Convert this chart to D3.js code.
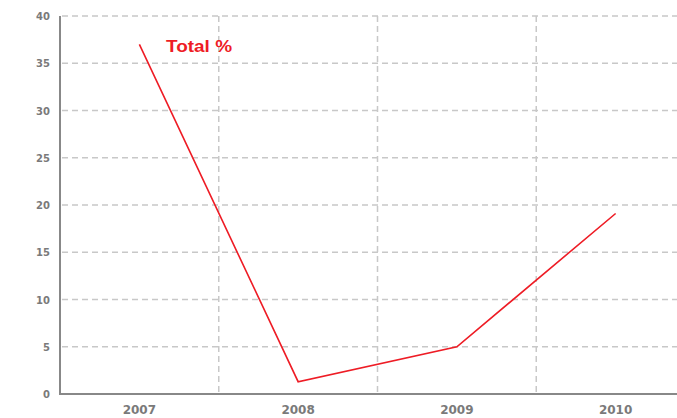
<!DOCTYPE html>
<html><head><meta charset="utf-8">
<script src="https://cdn.jsdelivr.net/npm/d3@7"></script>
<style>body{margin:0;background:#fff}svg{display:block}</style>
</head><body>
<svg id="c" width="677" height="418"></svg>
<script>
const categories = ["2007","2008","2009","2010"];
const values = [37, 1.3, 5, 19.1];
const yTicks = [0,5,10,15,20,25,30,35,40];
const seriesName = "Total %";

(function () {
const svg = d3.select("#c");
const mLeft = 60, mRight = 695, mTop = 16, mBottom = 394;
const x = d3.scaleBand().domain(categories).range([mLeft, mRight]);
const y = d3.scaleLinear().domain([0, 40]).range([mBottom, mTop]);

// horizontal grid
svg.append("g").selectAll("line").data(yTicks.filter(d => d > 0)).join("line")
  .attr("x1", mLeft + 2).attr("x2", 677)
  .attr("y1", d => y(d)).attr("y2", d => y(d))
  .attr("stroke", "#c8c8c8").attr("stroke-width", 1.5).attr("stroke-dasharray", "6,4");
// vertical grid at band boundaries
svg.append("g").selectAll("line").data(categories.slice(1)).join("line")
  .attr("x1", d => x(d)).attr("x2", d => x(d))
  .attr("y1", mTop).attr("y2", mBottom)
  .attr("stroke", "#c8c8c8").attr("stroke-width", 1.5).attr("stroke-dasharray", "6,4");

// axes
svg.append("line").attr("x1", mLeft).attr("x2", mLeft).attr("y1", mTop).attr("y2", mBottom + 1)
  .attr("stroke", "#888").attr("stroke-width", 2);
svg.append("line").attr("x1", mLeft).attr("x2", 677).attr("y1", mBottom).attr("y2", mBottom)
  .attr("stroke", "#888").attr("stroke-width", 2);

// y labels
svg.append("g").selectAll("text").data(yTicks).join("text")
  .attr("x", 50).attr("y", d => y(d) + 4)
  .attr("text-anchor", "end")
  .attr("font-family", "DejaVu Sans, sans-serif").attr("font-weight", "bold")
  .attr("font-size", 10).attr("fill", "#7a7a7a")
  .text(d => d);

// x labels
svg.append("g").selectAll("text").data(categories).join("text")
  .attr("x", d => x(d) + x.bandwidth() / 2).attr("y", 414)
  .attr("text-anchor", "middle")
  .attr("font-family", "DejaVu Sans, sans-serif").attr("font-weight", "bold")
  .attr("font-size", 12).attr("fill", "#7a7a7a")
  .text(d => d);

// line
const line = d3.line().x((d, i) => x(categories[i]) + x.bandwidth() / 2).y(d => y(d));
svg.append("path").datum(values).attr("d", line)
  .attr("fill", "none").attr("stroke", "#ee1c25").attr("stroke-width", 1.6);

// legend label
svg.append("text").attr("x", 166).attr("y", 52)
  .attr("font-family", "Liberation Sans, sans-serif").attr("font-weight", "bold")
  .attr("font-size", 17).attr("fill", "#ee1c25")
  .attr("textLength", 66).attr("lengthAdjust", "spacingAndGlyphs")
  .text(seriesName);
})();
</script>
</body></html>
